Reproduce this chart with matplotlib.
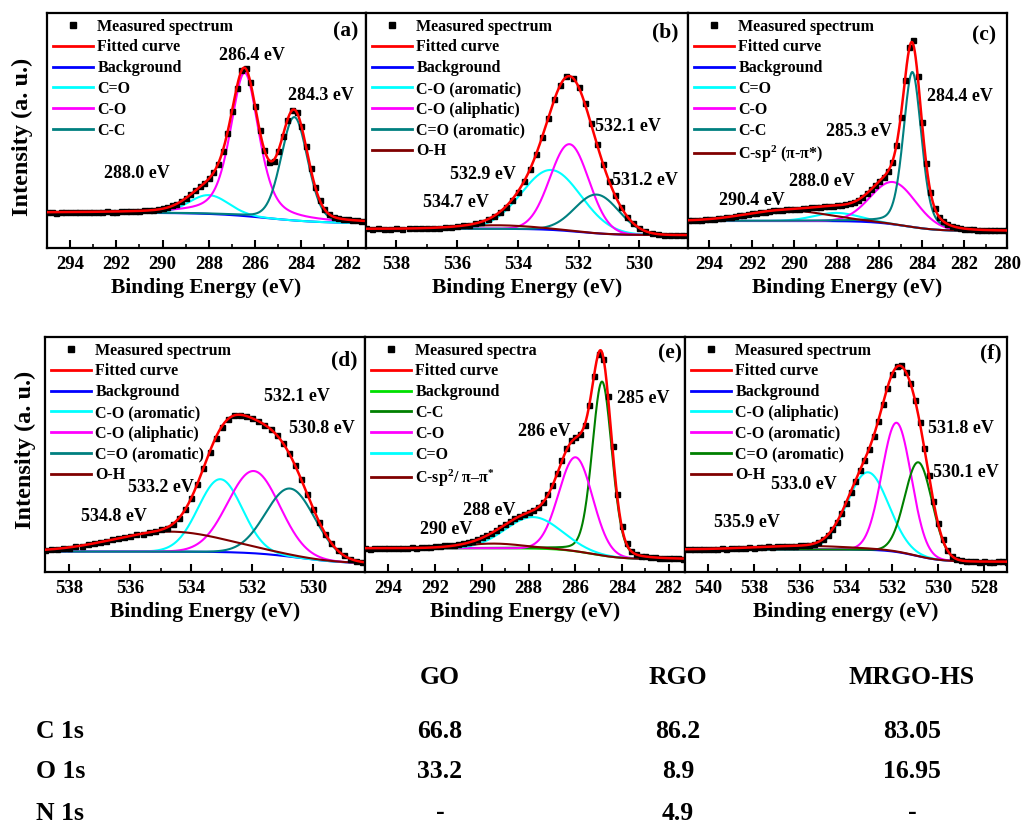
import numpy as np
import matplotlib
matplotlib.use('Agg')
import matplotlib.pyplot as plt
from matplotlib.lines import Line2D

plt.rcParams['font.family'] = ['Liberation Serif', 'DejaVu Serif']
plt.rcParams['font.weight'] = 'bold'
plt.rcParams['mathtext.fontset'] = 'custom'
plt.rcParams['mathtext.rm'] = 'Liberation Serif:bold'
plt.rcParams['mathtext.it'] = 'Liberation Serif:italic:bold'
plt.rcParams['mathtext.bf'] = 'Liberation Serif:bold'
plt.rcParams['mathtext.default'] = 'regular'

# ---------------- data ----------------
MEAS_STEP = 0.2  # eV spacing of the measured points

# (a) GO  C 1s
a_names = ['C=O', 'C-O', 'C-C']
a_centers = [288.0, 286.45, 284.3]
a_heights = [8.0, 61.0, 44.0]
a_fwhm = [2.0, 1.45, 1.35]
a_lorentz = [0.0, 0.5, 0.15]
a_background = [15.0, 10.5, 285.5, 1.2]   # left level, right level, step centre, step width
a_xlim = [295.0, 281.2]
a_measured_start = 295.0
a_measured = [15.2, 15.4, 15.1, 15.3, 15.5, 15.2, 15.3, 15.4, 15.4, 15.2, 15.5, 15.4, 15.3, 15.6, 15.4,
              15.5, 15.7, 15.6, 15.7, 15.9, 15.8, 16.0, 16.1, 16.3, 16.5, 16.9, 17.4, 18.1, 18.9, 20.1,
              21.4, 22.9, 24.6, 26.2, 27.8, 29.7, 32.2, 35.8, 41.3, 48.9, 58.2, 67.9, 75.6, 76.5, 70.5,
              60.4, 50.0, 41.9, 36.8, 37.0, 41.2, 47.7, 54.5, 58.9, 57.8, 52.1, 43.3, 34.0, 26.1, 20.3,
              16.5, 14.4, 13.3, 12.7, 12.3, 12.2, 11.9, 11.8, 11.6, 11.5]

# (b) GO  O 1s
b_names = ['C-O (aromatic)', 'C-O (aliphatic)', 'C=O (aromatic)', 'O-H']
b_centers = [532.9, 532.3, 531.4, 534.7]
b_heights = [25.5, 37.0, 16.5, 1.5]
b_fwhm = [2.3, 1.5, 1.7, 3.0]
b_lorentz = [0.0, 0.0, 0.0, 0.0]
b_background = [8.2, 5.5, 532.0, 0.6]
b_xlim = [539.0, 528.4]
b_measured_start = 539.0
b_measured = [8.3, 8.0, 8.4, 8.1, 8.2, 8.5, 8.2, 8.4, 8.3, 8.5, 8.4, 8.7, 8.6, 9.0, 8.9, 9.3, 9.6, 9.9,
              10.5, 11.2, 12.3, 13.5, 15.3, 17.6, 20.5, 24.0, 28.3, 33.6, 39.9, 47.3, 55.4, 63.2, 69.4,
              73.2, 72.5, 68.5, 61.6, 53.1, 44.3, 35.9, 28.6, 22.4, 17.3, 13.4, 10.5, 8.5, 7.2, 6.4, 5.9,
              5.7, 5.6, 5.5, 5.6, 5.5]

# (c) RGO  C 1s
c_names = ['C=O', 'C-O', 'C-C', r'C-sp$^{2}$ (π-π*)']
c_centers = [288.0, 285.35, 284.45, 290.4]
c_heights = [3.5, 18.0, 66.0, 4.5]
c_fwhm = [2.5, 2.5, 1.0, 4.5]
c_lorentz = [0.0, 0.0, 0.3, 0.0]
c_background = [11.5, 7.2, 284.8, 0.8]
c_xlim = [295.0, 280.0]
c_measured_start = 295.0
c_measured = [11.8, 11.9, 11.9, 12.1, 12.2, 12.3, 12.5, 12.7, 12.9, 13.1, 13.4, 13.6, 13.9, 14.2, 14.5,
              14.8, 15.0, 15.3, 15.5, 15.8, 16.0, 16.1, 16.3, 16.4, 16.5, 16.7, 16.8, 16.9, 17.1, 17.3,
              17.4, 17.6, 17.8, 17.9, 18.0, 18.2, 18.3, 18.6, 19.0, 19.6, 20.5, 21.7, 23.2, 24.9, 26.7,
              28.5, 30.3, 32.6, 36.5, 43.7, 55.7, 71.4, 85.5, 88.4, 73.3, 53.7, 36.1, 23.9, 17.0, 13.4,
              11.4, 10.2, 9.4, 8.9, 8.5, 8.2, 8.0, 7.9, 7.8, 7.7, 7.6, 7.6, 7.6, 7.5, 7.5, 7.5]

# (d) RGO  O 1s
d_names = ['C-O (aromatic)', 'C-O (aliphatic)', 'C=O (aromatic)', 'O-H']
d_centers = [533.05, 531.95, 530.75, 534.7]
d_heights = [31.0, 35.0, 29.0, 8.5]
d_fwhm = [1.7, 2.0, 1.9, 4.4]
d_lorentz = [0.0, 0.0, 0.0, 0.0]
d_background = [8.7, 3.5, 530.5, 0.8]
d_xlim = [538.8, 528.3]
d_measured_start = 538.8
d_measured = [9.5, 9.9, 9.7, 10.4, 10.3, 11.0, 11.2, 11.9, 12.2, 12.9, 13.2, 14.0, 14.3, 15.1, 15.4, 16.1,
              16.3, 17.0, 17.3, 18.1, 18.9, 20.5, 23.0, 26.6, 31.5, 37.5, 44.3, 51.1, 57.2, 61.9, 65.0,
              66.6, 66.9, 66.4, 65.4, 64.2, 62.7, 60.8, 58.3, 55.0, 50.7, 45.5, 39.6, 33.3, 27.0, 21.2,
              16.2, 12.2, 9.2, 7.1, 5.7, 4.8, 4.3]

# (e) MRGO-HS  C 1s
e_names = ['C-C', 'C-O', 'C=O', r'C-sp$^{2}$/ π–π$^{*}$']
e_centers = [284.85, 285.98, 287.8, 289.5]
e_heights = [74.0, 40.0, 13.4, 2.0]
e_fwhm = [1.0, 1.7, 2.8, 3.0]
e_lorentz = [0.2, 0.0, 0.0, 0.0]
e_background = [10.1, 5.4, 285.3, 0.7]
e_xlim = [295.0, 281.3]
e_measured_start = 295.0
e_measured = [10.1, 10.0, 10.3, 10.1, 10.2, 10.1, 10.3, 10.2, 10.4, 10.3, 10.5, 10.4, 10.6, 10.7, 10.8,
              10.9, 11.1, 11.3, 11.4, 11.6, 11.9, 12.2, 12.6, 13.2, 13.9, 14.7, 15.6, 16.7, 17.9, 19.1,
              20.4, 21.6, 22.8, 23.9, 24.8, 25.6, 26.5, 27.8, 29.9, 33.0, 37.2, 42.3, 47.8, 52.6, 56.0,
              57.6, 58.9, 62.5, 70.9, 83.2, 92.6, 90.8, 75.1, 53.5, 33.4, 19.6, 12.3, 8.9, 7.5, 6.9,
              6.6, 6.4, 6.2, 6.1, 6.0, 5.9, 5.8, 5.8, 5.7]

# (f) MRGO-HS  O 1s
f_names = ['C-O (aliphatic)', 'C-O (aromatic)', 'C=O (aromatic)', 'O-H']
f_centers = [533.05, 531.8, 530.85, 535.9]
f_heights = [33.0, 55.0, 40.0, 1.5]
f_fwhm = [2.1, 1.5, 1.4, 5.0]
f_lorentz = [0.0, 0.0, 0.0, 0.0]
f_background = [9.6, 4.4, 531.0, 0.6]
f_xlim = [541.0, 527.0]
f_measured_start = 541.0
f_measured = [9.9, 9.6, 9.8, 9.9, 9.7, 10.0, 9.8, 10.0, 10.1, 9.9, 10.2, 10.1, 10.4, 10.2, 10.5, 10.4,
              10.7, 10.6, 10.9, 10.8, 11.0, 11.1, 10.9, 11.2, 11.0, 11.3, 11.5, 11.7, 12.1, 12.8, 14.0,
              15.7, 18.1, 21.3, 25.1, 29.4, 34.0, 38.7, 43.2, 47.6, 52.3, 57.8, 64.3, 71.5, 78.5, 84.1,
              87.5, 88.2, 85.2, 80.3, 73.2, 63.9, 52.9, 41.2, 30.1, 20.8, 13.9, 9.4, 6.8, 5.5, 4.9, 4.6,
              4.5, 4.6, 4.4, 4.5, 4.4, 4.3, 4.6, 4.5, 4.4]

# Atomic composition table (%)
table_columns = ['GO', 'RGO', 'MRGO-HS']
table_rows = ['C 1s', 'O 1s', 'N 1s']
table_go = ['66.8', '33.2', '-']
table_rgo = ['86.2', '8.9', '4.9']
table_mrgo = ['83.05', '16.95', '-']

# ---------------- helpers ----------------
def peak(E, c, h, w, eta):
    x = (E - c) / w
    return h * (eta / (1 + 4 * x * x) + (1 - eta) * np.exp(-4 * np.log(2) * x * x))

def background(E, p):
    left, right, c, s = p
    return right + (left - right) / (1 + np.exp(-(E - c) / s))

W, H = 1022, 825
fig = plt.figure(figsize=(W / 100, H / 100), dpi=100)

def axpix(l, t, r, b):
    return fig.add_axes([l / W, 1 - b / H, (r - l) / W, (b - t) / H])

RED, BLUE, CYAN, MAG, TEAL, DRED = '#ff0000', '#0000ff', '#00ffff', '#ff00ff', '#008080', '#800000'
GREEN, LIME = '#008000', '#00e000'

panels = [
    dict(pos=(47, 13, 366, 248), names=a_names, c=a_centers, h=a_heights, w=a_fwhm, eta=a_lorentz,
         bg=a_background, xlim=a_xlim, m0=a_measured_start, m=a_measured,
         ticks=range(282, 295, 2), colors=[CYAN, MAG, TEAL], bgcol=BLUE,
         meas='Measured spectrum', tag='(a)', tagpos=(0.975, 0.92), xlabel='Binding Energy (eV)',
         labels=[('286.4 eV', 0.643, 0.821), ('284.3 eV', 0.859, 0.651), ('288.0 eV', 0.282, 0.319)]),
    dict(pos=(366, 13, 688, 248), names=b_names, c=b_centers, h=b_heights, w=b_fwhm, eta=b_lorentz,
         bg=b_background, xlim=b_xlim, m0=b_measured_start, m=b_measured,
         ticks=range(530, 539, 2), colors=[CYAN, MAG, TEAL, DRED], bgcol=BLUE,
         meas='Measured spectrum', tag='(b)', tagpos=(0.969, 0.915), xlabel='Binding Energy (eV)',
         labels=[('532.1 eV', 0.813, 0.519), ('532.9 eV', 0.364, 0.311), ('531.2 eV', 0.866, 0.289),
                 ('534.7 eV', 0.28, 0.193)]),
    dict(pos=(688, 13, 1007, 248), names=c_names, c=c_centers, h=c_heights, w=c_fwhm, eta=c_lorentz,
         bg=c_background, xlim=c_xlim, m0=c_measured_start, m=c_measured,
         ticks=range(280, 295, 2), colors=[CYAN, MAG, TEAL, DRED], bgcol=BLUE,
         meas='Measured spectrum', tag='(c)', tagpos=(0.966, 0.906), xlabel='Binding Energy (eV)',
         labels=[('284.4 eV', 0.853, 0.644), ('285.3 eV', 0.536, 0.495), ('288.0 eV', 0.421, 0.282),
                 ('290.4 eV', 0.2, 0.204)]),
    dict(pos=(45, 337, 365, 572), names=d_names, c=d_centers, h=d_heights, w=d_fwhm, eta=d_lorentz,
         bg=d_background, xlim=d_xlim, m0=d_measured_start, m=d_measured,
         ticks=range(530, 539, 2), colors=[CYAN, MAG, TEAL, DRED], bgcol=BLUE,
         meas='Measured spectrum', tag='(d)', tagpos=(0.975, 0.902), xlabel='Binding Energy (eV)',
         labels=[('532.1 eV', 0.7875, 0.746), ('530.8 eV', 0.866, 0.611), ('533.2 eV', 0.362, 0.36),
                 ('534.8 eV', 0.215, 0.235)]),
    dict(pos=(365, 337, 685, 572), names=e_names, c=e_centers, h=e_heights, w=e_fwhm, eta=e_lorentz,
         bg=e_background, xlim=e_xlim, m0=e_measured_start, m=e_measured,
         ticks=range(282, 295, 2), colors=[GREEN, MAG, CYAN, DRED], bgcol=LIME,
         meas='Measured spectra', tag='(e)', tagpos=(0.99, 0.93), xlabel='Binding Energy (eV)',
         labels=[('285 eV', 0.87, 0.739), ('286 eV', 0.561, 0.6), ('288 eV', 0.3875, 0.26),
                 ('290 eV', 0.2547, 0.182)]),
    dict(pos=(685, 337, 1007, 572), names=f_names, c=f_centers, h=f_heights, w=f_fwhm, eta=f_lorentz,
         bg=f_background, xlim=f_xlim, m0=f_measured_start, m=f_measured,
         ticks=range(528, 541, 2), colors=[CYAN, MAG, GREEN, DRED], bgcol=BLUE,
         meas='Measured spectrum', tag='(f)', tagpos=(0.984, 0.93), xlabel='Binding energy (eV)',
         labels=[('531.8 eV', 0.857, 0.611), ('530.1 eV', 0.871, 0.423), ('533.0 eV', 0.369, 0.374),
                 ('535.9 eV', 0.191, 0.21)]),
]

for p in panels:
    ax = axpix(*p['pos'])
    x0, x1 = p['xlim']
    E = np.linspace(x0, x1, 800)
    bgv = background(E, p['bg'])
    fit = bgv.copy()
    handles = [Line2D([], [], ls='none', marker='s', color='k', ms=5),
               Line2D([], [], color=RED, lw=2), Line2D([], [], color=p['bgcol'], lw=2)]
    labels = [p['meas'], 'Fitted curve', 'Background']
    comps = []
    for name, c, h, w, eta, col in zip(p['names'], p['c'], p['h'], p['w'], p['eta'], p['colors']):
        y = peak(E, c, h, w, eta)
        fit += y
        comps.append((bgv + y, col))
        handles.append(Line2D([], [], color=col, lw=2))
        labels.append(name)
    ax.plot(E, bgv, color=p['bgcol'], lw=1.5, zorder=2)
    for y, col in comps:
        ax.plot(E, y, color=col, lw=1.5, zorder=2)
    meas = np.asarray(p['m'])
    Em = p['m0'] - MEAS_STEP * np.arange(len(meas))
    ax.plot(Em, meas, ls='none', marker='s', color='k', ms=3.6, zorder=3)
    ax.plot(E, fit, color=RED, lw=1.8, zorder=4)

    ax.set_xlim(x0, x1)
    ax.set_ylim(0, 100)
    ax.set_yticks([])
    ax.set_xticks(list(p['ticks']))
    ax.set_xticks([t + 1 for t in p['ticks'] if x1 < t + 1 < x0], minor=True)
    ax.tick_params(axis='x', which='major', direction='in', length=6, width=1.5, labelsize=13.5, pad=6)
    ax.tick_params(axis='x', which='minor', direction='in', length=3, width=1.2)
    for s in ax.spines.values():
        s.set_linewidth(1.6)
    ax.set_xlabel(p['xlabel'], fontsize=15.5, fontweight='bold', labelpad=3)
    ax.legend(handles, labels, loc='upper left', bbox_to_anchor=(0.0, 1.0), frameon=False,
              fontsize=11.5, handlelength=2.5, handletextpad=0.3, labelspacing=0.3,
              borderaxespad=0.15, borderpad=0.2)
    ax.text(p['tagpos'][0], p['tagpos'][1], p['tag'], transform=ax.transAxes, ha='right', va='center',
            fontsize=15.5, fontweight='bold')
    for t, fx, fy in p['labels']:
        ax.text(fx, fy, t, transform=ax.transAxes, ha='center', va='center', fontsize=13, fontweight='bold')

fig.text(22 / W, 1 - 137 / H, 'Intensity (a. u.)', rotation=90, ha='center', va='center',
         fontsize=17.5, fontweight='bold')
fig.text(25 / W, 1 - 450 / H, 'Intensity (a. u.)', rotation=90, ha='center', va='center',
         fontsize=17.5, fontweight='bold')

col_x = [440, 678, 912]
row_y = [732, 772, 813]
for name, x in zip(table_columns, col_x):
    fig.text(x / W, 1 - 678 / H, name, ha='center', va='center', fontsize=18.5, fontweight='bold')
for name, y, go, rgo, mr in zip(table_rows, row_y, table_go, table_rgo, table_mrgo):
    fig.text(36 / W, 1 - y / H, name, ha='left', va='center', fontsize=18.5, fontweight='bold')
    for v, x in zip([go, rgo, mr], col_x):
        fig.text(x / W, 1 - y / H, v, ha='center', va='center', fontsize=18.5, fontweight='bold')

fig.savefig('out.png', dpi=100)
